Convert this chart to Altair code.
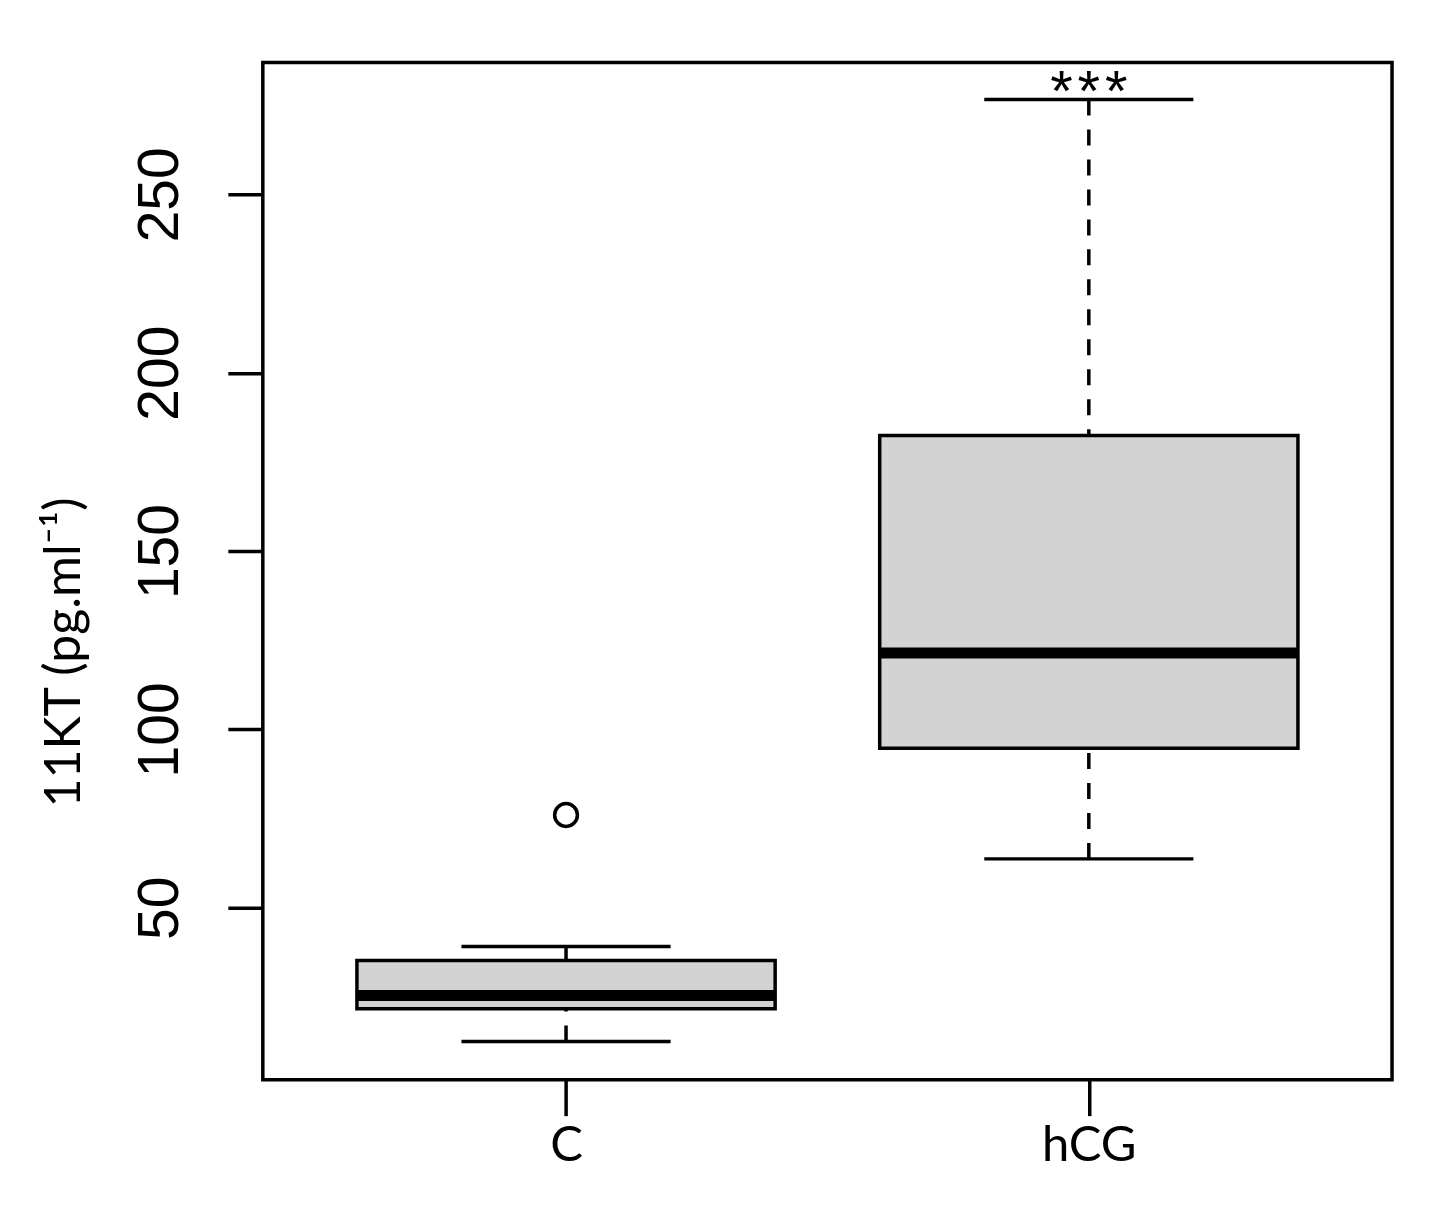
import altair as alt
import pandas as pd

# ---- data ----
groups = ["C", "hCG"]
positions = [1, 2]
lower_whisker = [12.5, 63.7]
q1 = [21.7, 94.7]
median = [25.4, 121.4]
q3 = [35.2, 182.4]
upper_whisker = [39.1, 276.6]
sig_labels = ["", "*\u200a*\u200a*"]

outlier_pos = [1]
outlier_value = [76.0]

y_ticks = [50, 100, 150, 200, 250]

box_df = pd.DataFrame({
    "group": groups,
    "pos": positions,
    "lo": lower_whisker,
    "q1": q1,
    "med": median,
    "q3": q3,
    "hi": upper_whisker,
    "sig": sig_labels,
})
out_df = pd.DataFrame({"pos": outlier_pos, "value": outlier_value})

label_expr = " : ".join(
    [f"datum.value == {p} ? '{g}'" for p, g in zip(positions, groups)]
) + " : ''"

xscale = alt.Scale(domain=[0.42, 2.58], nice=False, zero=False)
yscale = alt.Scale(domain=[1.8, 287], nice=False, zero=False)

LW = 3.5

x_axis = alt.Axis(
    values=positions, labelExpr=label_expr, title=None, domain=False,
    grid=False, ticks=True, tickSize=36, tickWidth=LW, tickColor="black",
    labelFont="Lato", labelFontSize=49, labelColor="black", labelPadding=6,
)
y_axis = alt.Axis(
    values=y_ticks, title="11KT (pg.ml\u207b\u00b9)", domain=False, grid=False,
    tickSize=35, tickWidth=LW, tickColor="black",
    labelFont="Liberation Sans", labelFontSize=57, labelColor="black",
    labelAngle=270, labelAlign="center", labelBaseline="bottom", labelPadding=38,
    titleFont="Lato", titleFontSize=50, titleFontWeight="normal", titleColor="black",
    titleAngle=270, titleAlign="center", titleBaseline="alphabetic",
    titleX=-183, titleY=590,
)

base = alt.Chart(box_df)

calc = base.transform_calculate(
    xl="datum.pos - 0.4", xr="datum.pos + 0.4",
    cl="datum.pos - 0.2", cr="datum.pos + 0.2",
)

upper_wh = base.mark_rule(color="black", strokeWidth=LW, strokeDash=[16, 14], strokeCap="butt").encode(
    x=alt.X("pos:Q", scale=xscale, axis=x_axis),
    y=alt.Y("hi:Q", scale=yscale, axis=y_axis),
    y2="q3:Q",
)
lower_wh = base.mark_rule(color="black", strokeWidth=LW, strokeDash=[16, 14], strokeCap="butt").encode(
    x=alt.X("pos:Q", scale=xscale),
    y=alt.Y("lo:Q", scale=yscale),
    y2="q1:Q",
)
box = calc.mark_rect(fill="#D3D3D3", stroke="black", strokeWidth=LW).encode(
    x=alt.X("xl:Q", scale=xscale),
    x2="xr:Q",
    y=alt.Y("q1:Q", scale=yscale),
    y2="q3:Q",
)
med = calc.mark_rule(color="black", strokeWidth=11, strokeCap="butt").encode(
    x=alt.X("xl:Q", scale=xscale),
    x2="xr:Q",
    y=alt.Y("med:Q", scale=yscale),
)
cap_hi = calc.mark_rule(color="black", strokeWidth=LW, strokeCap="butt").encode(
    x=alt.X("cl:Q", scale=xscale),
    x2="cr:Q",
    y=alt.Y("hi:Q", scale=yscale),
)
cap_lo = calc.mark_rule(color="black", strokeWidth=LW, strokeCap="butt").encode(
    x=alt.X("cl:Q", scale=xscale),
    x2="cr:Q",
    y=alt.Y("lo:Q", scale=yscale),
)
outliers = alt.Chart(out_df).mark_point(
    shape="circle", filled=False, color="black", size=520, strokeWidth=3.5, opacity=1
).encode(
    x=alt.X("pos:Q", scale=xscale),
    y=alt.Y("value:Q", scale=yscale),
)
sig = base.mark_text(
    font="Liberation Sans", fontSize=58, color="black", baseline="alphabetic",
    align="center", dy=12,
).encode(
    x=alt.X("pos:Q", scale=xscale),
    y=alt.Y("hi:Q", scale=yscale),
    text="sig:N",
)

chart = alt.layer(upper_wh, lower_wh, box, med, cap_hi, cap_lo, outliers, sig).properties(
    width=1130, height=1018,
    autosize=alt.AutoSizeParams(type="none"),
    padding={"left": 255, "top": 54, "right": 50, "bottom": 120},
    background="white",
).configure_view(stroke="black", strokeWidth=LW)

chart.save("out.html", embed_options={"renderer": "svg", "actions": False})
